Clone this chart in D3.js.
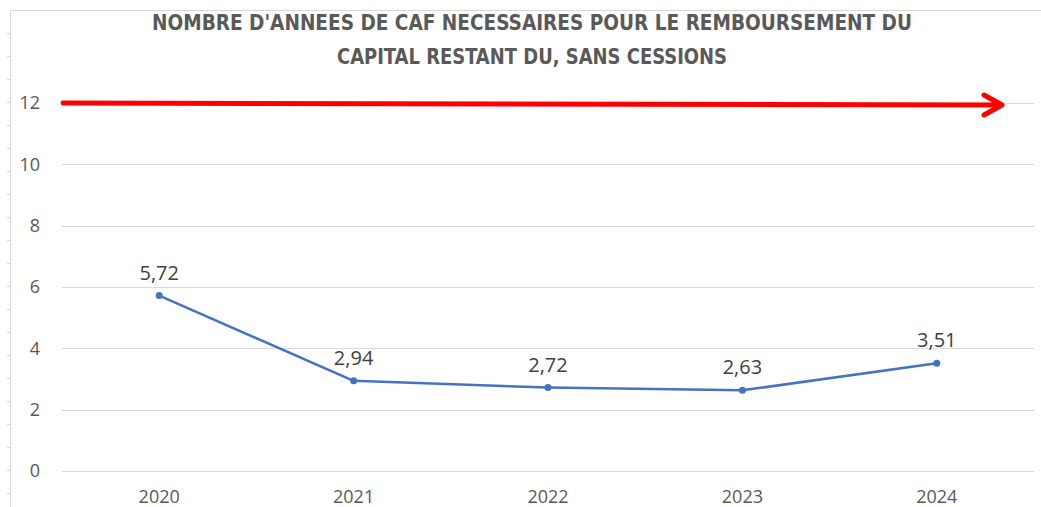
<!DOCTYPE html>
<html>
<head>
<meta charset="utf-8">
<script src="https://cdn.jsdelivr.net/npm/d3@7"></script>
<style>
  body { margin: 0; background: #fff; }
  svg { display: block; }
</style>
</head>
<body>
<div id="chart"></div>
<script>
// data
const years = ['2020', '2021', '2022', '2023', '2024'];
const values = [5.72, 2.94, 2.72, 2.63, 3.51];
const yTicks = [0, 2, 4, 6, 8, 10, 12];
const threshold = [12];
const titleLines = ["NOMBRE D'ANNEES DE CAF NECESSAIRES POUR LE REMBOURSEMENT DU", "CAPITAL RESTANT DU, SANS CESSIONS"];

const width = 1041;
const height = 507;
const margin = {top: 103, right: 7, bottom: 36, left: 62};

const svg = d3.select('#chart')
    .append('svg')
    .attr('width', width)
    .attr('height', height);

svg.append('rect')
    .attr('width', width)
    .attr('height', height)
    .attr('fill', '#fff');

// sheet cell borders around the chart
svg.append('line')
    .attr('x1', 10).attr('x2', width)
    .attr('y1', 10.5).attr('y2', 10.5)
    .attr('stroke', '#d9d9d9');
svg.append('line')
    .attr('x1', 10.5).attr('x2', 10.5)
    .attr('y1', 10).attr('y2', height)
    .attr('stroke', '#d9d9d9');
svg.selectAll('.rowtick')
    .data(d3.range(33, height, 23))
    .enter()
    .append('line')
    .attr('x1', 7).attr('x2', 10)
    .attr('y1', d => d + 0.5).attr('y2', d => d + 0.5)
    .attr('stroke', '#d9d9d9');

const x = d3.scaleBand()
    .domain(years)
    .range([margin.left, width - margin.right]);

const y = d3.scaleLinear()
    .domain([0, 12])
    .range([height - margin.bottom, margin.top]);

// gridlines
svg.append('g')
    .selectAll('line')
    .data(yTicks)
    .enter()
    .append('line')
    .attr('x1', margin.left)
    .attr('x2', width - margin.right)
    .attr('y1', d => Math.round(y(d)) + 0.5)
    .attr('y2', d => Math.round(y(d)) + 0.5)
    .attr('stroke', '#d9d9d9')
    .attr('stroke-width', 1.2);

// y labels
svg.append('g')
    .selectAll('text')
    .data(yTicks)
    .enter()
    .append('text')
    .text(d => d)
    .attr('x', 40)
    .attr('y', d => y(d))
    .attr('dy', '0.36em')
    .attr('text-anchor', 'end')
    .attr('fill', '#595959')
    .style('font-family', '"Open Sans", sans-serif')
    .style('font-size', '18px');

// x labels
svg.append('g')
    .selectAll('text')
    .data(years)
    .enter()
    .append('text')
    .text(d => d)
    .attr('x', d => x(d) + x.bandwidth() / 2)
    .attr('y', 503)
    .attr('text-anchor', 'middle')
    .attr('fill', '#595959')
    .style('font-family', '"Open Sans", sans-serif')
    .style('font-size', '18px');

// title
svg.append('g')
    .selectAll('text')
    .data(titleLines)
    .enter()
    .append('text')
    .text(d => d)
    .attr('x', 532)
    .attr('y', (d, i) => 30 + i * 34)
    .attr('text-anchor', 'middle')
    .attr('fill', '#595959')
    .attr('textLength', (d, i) => i === 0 ? 760 : 390)
    .attr('lengthAdjust', 'spacingAndGlyphs')
    .style('font-family', '"Liberation Sans Narrow", "DejaVu Sans Condensed", sans-serif')
    .style('font-weight', 'bold')
    .style('font-size', '21px');

// red arrow at threshold
const arrowEnd = 1002;
svg.append('g')
    .selectAll('path')
    .data(threshold)
    .enter()
    .append('path')
    .attr('d', d => {
        const y0 = y(d);
        return `M${margin.left + 1},${y0} L${arrowEnd},${y0 + 2}`
            + ` M${arrowEnd - 18},${y0 - 8} L${arrowEnd},${y0 + 2} L${arrowEnd - 18},${y0 + 12}`;
    })
    .attr('fill', 'none')
    .attr('stroke', '#ff0000')
    .attr('stroke-width', 5)
    .attr('stroke-linecap', 'round')
    .attr('stroke-linejoin', 'round');

// series
const line = d3.line()
    .x((d, i) => x(years[i]) + x.bandwidth() / 2)
    .y(d => y(d));

svg.append('path')
    .datum(values)
    .attr('d', line)
    .attr('fill', 'none')
    .attr('stroke', '#4472c4')
    .attr('stroke-width', 2.5)
    .attr('stroke-linejoin', 'round');

svg.append('g')
    .selectAll('circle')
    .data(values)
    .enter()
    .append('circle')
    .attr('cx', (d, i) => x(years[i]) + x.bandwidth() / 2)
    .attr('cy', d => y(d))
    .attr('r', 3.5)
    .attr('fill', '#4472c4');

svg.append('g')
    .selectAll('text')
    .data(values)
    .enter()
    .append('text')
    .text(d => d.toFixed(2).replace('.', ','))
    .attr('x', (d, i) => x(years[i]) + x.bandwidth() / 2)
    .attr('y', d => y(d) - 16)
    .attr('text-anchor', 'middle')
    .attr('fill', '#404040')
    .style('font-family', '"Open Sans", sans-serif')
    .style('font-size', '20px');
</script>
</body>
</html>
